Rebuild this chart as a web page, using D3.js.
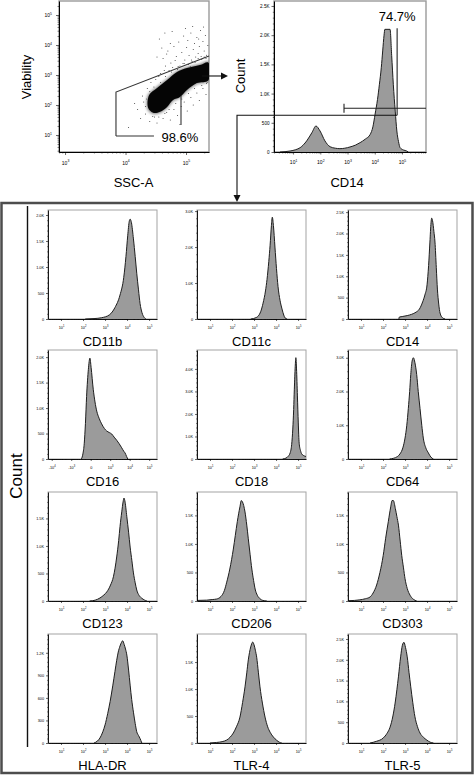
<!DOCTYPE html>
<html><head><meta charset="utf-8">
<script src="https://cdn.jsdelivr.net/npm/d3@7"></script>
<style>
body{margin:0;background:#fff}
svg{display:block}
text{font-family:"Liberation Sans",Arial,Helvetica,sans-serif;fill:#000}
</style></head>
<body><svg id="c" width="474" height="775"></svg>
<script>
// ================= DATA =================
// Viability vs SSC-A scatter (log10 units)
const scatterXTicks = [3, 4, 5];
const scatterYTicks = [1, 2, 3, 4, 5];
const scatterCloud = [[4.388,2.333],[4.52,2.567],[4.686,2.833],[4.851,3.1],[5.016,3.233],[5.231,3.333],[5.37,3.42],
  [5.37,2.82],[5.181,2.733],[5.016,2.5],[4.9,2.267],[4.785,2.167],[4.686,1.933],[4.57,1.767],[4.454,1.733],[4.371,1.9]];
const scatterSparse = [[4.62,3.55],[4.70,3.80],[4.75,3.40],[4.80,3.95],[4.84,3.62],[4.88,4.10],[4.90,3.30],[4.93,3.75],[4.96,4.30],
  [4.98,3.50],[5.01,3.92],[5.03,4.15],[5.05,3.65],[5.08,4.40],[5.10,3.45],[5.12,3.85],[5.14,4.05],[5.16,3.60],[5.18,4.25],
  [5.20,3.72],[5.22,3.95],[5.24,4.48],[5.26,3.52],[5.28,4.12],[5.30,3.80],[5.32,4.32],[5.34,3.66],[5.36,3.98],[4.72,3.15],
  [4.78,3.25],[4.86,3.18],[4.95,3.38],[5.07,3.28],[5.15,3.42],[5.25,3.62],[5.33,3.55],[4.58,3.05],[4.66,3.30],[4.99,4.55],
  [5.11,4.62],[5.21,4.20],[5.29,4.60],[4.82,3.48],[5.04,3.35],[5.19,3.48],[4.25,1.55],[4.30,2.10],[4.33,1.70],[4.40,1.45],
  [4.45,2.40],[4.48,1.60],[4.52,1.40],[4.58,2.05],[4.62,1.55],[4.68,1.75],[4.74,1.50],[4.80,1.85],[4.86,1.65],[4.92,1.95],
  [4.97,2.10],[5.02,1.80],[5.08,2.25],[5.12,2.00],[5.18,2.40],[5.22,2.15],[5.28,2.55],[5.33,2.35],[4.36,2.55],[4.42,2.75],
  [4.50,2.85],[4.55,2.95],[4.28,2.30],[4.20,1.85],[4.15,2.05],[5.35,2.75],[5.30,2.90],[4.64,3.15],[4.05,1.25],[4.90,1.35],
  [4.52,3.6],[4.56,4.2],[4.60,3.9],[4.65,4.4],[4.68,3.7],[4.74,4.05],[4.77,4.45],[4.35,2.2],[4.33,1.95],[4.40,2.45],[4.47,2.6],
  [4.58,2.75],[4.66,2.95],[4.76,3.1],[4.87,3.28],[4.97,3.38],[5.09,3.5],[5.2,3.55],[5.3,3.6],[4.45,1.62],[4.55,1.6],[4.65,1.72],
  [4.72,1.85],[4.83,2.05],[4.93,2.2],[5.04,2.38],[5.14,2.55],[5.26,2.65],[5.34,2.72]];
const viabilityGate = [[3.842,0.967],[3.842,2.433],[5.38,3.633]];
const viabilityGateBase = [[3.842,0.967],[4.47,0.967]];
const viabilityLeader = [[4.917,2.3],[4.917,1.333]];
const viabilityLabel = {text:"98.6%", x:4.90, y:0.777};

// CD14 gating histogram (log10 units, count)
const cd14TopXTicks = [1, 2, 3, 4, 5];
const cd14TopYTicks = [0, 500, 1000, 1500, 2000, 2500];
const cd14Top = [[0.52,0],[0.89,17],[1.1,40],[1.26,74],[1.5,190],[1.69,330],[1.84,445],[1.99,360],[2.17,190],[2.36,90],
  [2.55,65],[2.72,57],[2.9,65],[3.09,86],[3.3,120],[3.46,160],[3.65,220],[3.83,300],[3.93,430],[4.01,645],[4.1,900],
  [4.17,1160],[4.24,1450],[4.29,1730],[4.34,2000],[4.37,2100],[4.56,2100],[4.62,1650],[4.68,1160],[4.75,700],[4.81,360],
  [4.87,180],[4.93,74],[5.05,35],[5.17,17],[5.23,0]];
const cd14GateRange = [2.87, 5.88];
const cd14GateLevel = 750;
const cd14Marker = {x:4.82, lo:630, hi:2120};
const cd14Label = {text:"74.7%", x:4.82, y:2248};

// Marker panels
const panelNames = ["CD11b","CD11c","CD14","CD16","CD18","CD64","CD123","CD206","CD303","HLA-DR","TLR-4","TLR-5"];
const panelYTicks = [[0,500,1000,1500,2000],[0,1000,2000,3000],[0,500,1000,1500,2000,2500],[0,500,1000,1500,2000],
  [0,1000,2000,3000,4000],[0,1000,2000,3000],[0,500,1000,1500],[0,500,1000,1500],[0,500,1000,1500],
  [0,300,600,900,1200],[0,500,1000,1500],[0,500,1000,1500,2000,2500]];
const panelYMax = [2096,3030,2550,2140,4840,3230,1980,1910,1910,1450,2020,2620];
const logXTicks = [1, 2, 3, 4, 5];
const logXLabels = ["10^1","10^2","10^3","10^4","10^5"];
const cd16XTicks = [0, 1, 2, 3, 4, 5];
const cd16XLabels = ["-10^4","-10^3","0","10^3","10^4","10^5"];

const histCD11b = [[2.1,0],[2.5,8],[2.85,25],[3.2,80],[3.45,220],[3.68,460],[3.85,800],[3.95,1200],[4.03,1600],[4.1,1880],
  [4.14,1920],[4.2,1850],[4.29,1540],[4.37,1200],[4.44,880],[4.52,560],[4.59,300],[4.68,120],[4.78,30],[4.85,0]];
const histCD11c = [[2.85,0],[3.1,40],[3.3,200],[3.41,440],[3.52,780],[3.59,1100],[3.67,1600],[3.73,2050],[3.79,2600],
  [3.83,2830],[3.88,2600],[3.95,2000],[4.02,1400],[4.09,900],[4.18,520],[4.27,280],[4.35,110],[4.41,30],[4.5,0]];
const histCD14 = [[2.72,0],[2.74,45],[2.9,60],[3.1,80],[3.3,110],[3.5,160],[3.65,230],[3.8,400],[3.9,560],[4.0,800],
  [4.07,1250],[4.13,1800],[4.18,2250],[4.21,2360],[4.25,2300],[4.31,2050],[4.36,1800],[4.42,1200],[4.47,700],[4.53,350],
  [4.59,140],[4.7,30],[4.82,0]];
const histCD16 = [[1.52,0],[1.6,100],[1.67,310],[1.73,700],[1.79,1230],[1.88,1760],[1.96,1980],[2.02,1800],[2.13,1370],
  [2.22,1120],[2.31,940],[2.43,800],[2.56,690],[2.7,600],[2.82,550],[2.95,520],[3.08,490],[3.2,430],[3.33,370],[3.46,300],
  [3.59,220],[3.7,150],[3.76,120],[3.84,50],[3.9,0]];
const histCD18 = [[4.3,0],[4.45,40],[4.55,120],[4.64,270],[4.71,650],[4.76,1330],[4.8,2200],[4.83,3100],[4.87,4100],
  [4.9,4500],[4.93,4000],[4.97,2800],[5.01,1600],[5.05,700],[5.11,380],[5.17,220],[5.3,130],[5.41,90]];
const histCD64 = [[2.3,0],[2.47,20],[2.65,70],[2.77,150],[2.9,330],[3.0,620],[3.08,1000],[3.15,1500],[3.21,2000],[3.26,2500],
  [3.32,2900],[3.38,3000],[3.45,2850],[3.53,2500],[3.6,2000],[3.68,1500],[3.76,1000],[3.83,620],[3.95,320],[4.06,180],
  [4.17,60],[4.29,0]];
const histCD123 = [[2.3,0],[2.55,15],[2.77,55],[2.95,110],[3.08,165],[3.25,290],[3.38,440],[3.53,800],[3.62,1100],[3.68,1350],
  [3.76,1620],[3.82,1800],[3.86,1870],[3.9,1820],[3.99,1530],[4.07,1250],[4.14,980],[4.22,730],[4.29,510],[4.37,330],
  [4.44,200],[4.55,100],[4.67,50],[4.9,0]];
const histCD206 = [[0.41,10],[0.85,15],[1.1,25],[1.3,35],[1.5,80],[1.65,180],[1.76,330],[1.9,560],[2.06,910],[2.15,1150],
  [2.24,1390],[2.36,1650],[2.42,1760],[2.47,1740],[2.59,1560],[2.67,1330],[2.74,1090],[2.82,820],[2.9,560],[2.98,360],
  [3.05,210],[3.15,100],[3.27,40],[3.4,10],[3.58,0]];
const histCD303 = [[0.42,5],[0.7,10],[0.95,20],[1.2,40],[1.41,70],[1.55,140],[1.71,280],[1.86,500],[2.01,800],[2.12,1100],
  [2.24,1390],[2.35,1650],[2.41,1760],[2.47,1760],[2.56,1620],[2.63,1480],[2.7,1330],[2.78,1050],[2.85,800],[2.93,580],
  [3.0,390],[3.1,220],[3.23,100],[3.38,30],[3.53,0]];
const histHLADR = [[2.5,0],[2.65,25],[2.77,67],[2.9,150],[3.0,240],[3.12,390],[3.23,550],[3.35,760],[3.45,950],[3.53,1100],
  [3.6,1210],[3.68,1290],[3.75,1340],[3.8,1360],[3.87,1310],[3.93,1250],[3.99,1170],[4.07,970],[4.14,770],[4.21,580],
  [4.29,410],[4.37,260],[4.44,150],[4.52,100],[4.59,60],[4.67,0]];
const histTLR4 = [[1.0,0],[1.3,10],[1.55,25],[1.76,55],[1.92,110],[2.06,185],[2.2,300],[2.36,480],[2.48,750],[2.59,1040],
  [2.67,1300],[2.74,1540],[2.85,1780],[2.94,1870],[3.0,1820],[3.06,1720],[3.12,1590],[3.2,1300],[3.27,1040],[3.38,740],
  [3.5,480],[3.62,300],[3.73,200],[3.88,110],[4.03,50],[4.15,15],[4.26,0]];
const histTLR5 = [[1.41,0],[1.7,40],[2.01,120],[2.18,230],[2.32,380],[2.45,650],[2.55,960],[2.63,1280],[2.7,1590],[2.8,2070],
  [2.88,2350],[2.95,2420],[3.02,2300],[3.1,2070],[3.18,1700],[3.26,1350],[3.35,980],[3.45,630],[3.56,400],[3.68,240],
  [3.83,140],[3.99,70],[4.14,20],[4.29,0]];
const panelHists = [histCD11b,histCD11c,histCD14,histCD16,histCD18,histCD64,histCD123,histCD206,histCD303,histHLADR,histTLR4,histTLR5];

// ================= LAYOUT / HELPERS =================
const svg = d3.select("#c");
const defs = svg.append("defs");
defs.append("filter").attr("id","blur").attr("x","-20%").attr("y","-20%").attr("width","140%").attr("height","140%")
  .append("feGaussianBlur").attr("stdDeviation",1.4);

const HFILL = "#9b9b9b", HSTROKE = "#1e1e1e", FRAME = "#a3a3a3";
let clipId = 0;

function fmtCount(v){ return v === 0 ? "0" : (v >= 1000 ? (v/1000).toFixed(1) + "K" : String(v)); }
function logMinor(lo, hi){
  const a = [];
  for (let d = Math.floor(lo) - 1; d <= Math.ceil(hi); d++)
    for (let k = 2; k <= 9; k++){ const v = d + Math.log10(k); if (v > lo && v < hi) a.push(v); }
  return a;
}
function supText(textSel, lab, fs){
  textSel.text(null);
  const parts = lab.split("^");
  textSel.append("tspan").text(parts[0]);
  if (parts.length > 1) textSel.append("tspan").attr("font-size", fs*0.68).attr("dy", -fs*0.42).text(parts[1]);
}
function styleAxis(ax, w){
  ax.select(".domain").attr("stroke","#000").attr("stroke-width", w);
  ax.selectAll(".tick line").attr("stroke","#000").attr("stroke-width", 0.6);
  ax.selectAll(".tick text").attr("fill","#333");
}
function clipRect(g, w, h){
  const id = "clip" + (clipId++);
  defs.append("clipPath").attr("id", id).append("rect").attr("width", w).attr("height", h);
  return "url(#" + id + ")";
}
function drawHist(g, x, y, data, w, h){
  const area = d3.area().x(d => x(d[0])).y0(y(0)).y1(d => y(d[1])).curve(d3.curveMonotoneX);
  const line = d3.line().x(d => x(d[0])).y(d => y(d[1])).curve(d3.curveMonotoneX);
  const cg = g.append("g").attr("clip-path", clipRect(g, w, h));
  cg.append("path").attr("d", area(data)).attr("fill", HFILL);
  cg.append("path").attr("d", line(data)).attr("fill","none").attr("stroke", HSTROKE).attr("stroke-width", 1);
}

// ================= SCATTER =================
(function(){
  const L = 59, T = 1, w = 150, h = 151;
  const g = svg.append("g").attr("transform", `translate(${L},${T})`);
  const x = d3.scaleLinear().domain([2.9, 5.38]).range([0, w]);
  const y = d3.scaleLinear().domain([0.433, 5.467]).range([h, 0]);
  g.append("rect").attr("width", w).attr("height", h).attr("fill","#fff").attr("stroke","#9a9a9a").attr("stroke-width",1.4);
  const cg = g.append("g").attr("clip-path", clipRect(g, w, h));
  cg.selectAll("circle").data(scatterSparse).join("circle")
    .attr("cx", d => x(d[0])).attr("cy", d => y(d[1])).attr("r", 0.5).attr("fill","#333");
  const cl = d3.line().x(d => x(d[0])).y(d => y(d[1])).curve(d3.curveCatmullRomClosed);
  cg.append("path").attr("d", cl(scatterCloud)).attr("fill","#444").attr("stroke","#666").attr("stroke-width",2).attr("opacity",0.75).attr("filter","url(#blur)");
  cg.append("path").attr("d", cl(scatterCloud)).attr("fill","#050505").attr("transform",`translate(0.6,0.4) scale(0.995)`);

  const ln = d3.line().x(d => x(d[0])).y(d => y(d[1]));
  [viabilityGate, viabilityGateBase, viabilityLeader].forEach(p =>
    g.append("path").attr("d", ln(p)).attr("fill","none").attr("stroke","#333").attr("stroke-width",1.1));
  g.append("text").attr("x", x(viabilityLabel.x)).attr("y", y(viabilityLabel.y)).attr("text-anchor","middle")
    .attr("font-size",13).text(viabilityLabel.text);

  const ay = g.append("g").call(d3.axisLeft(y).tickValues(scatterYTicks).tickSize(3).tickPadding(4).tickSizeOuter(0));
  ay.selectAll(".tick text").attr("font-size",5).each(function(d){ supText(d3.select(this), "10^" + d, 5); });
  styleAxis(ay, 1);
  const ayM = g.append("g").call(d3.axisLeft(y).tickValues(logMinor(0.433, 5.467)).tickSize(1.5).tickFormat(""));
  ayM.select(".domain").remove(); ayM.selectAll("line").attr("stroke-width",0.5);
  const ax = g.append("g").attr("transform", `translate(0,${h})`)
    .call(d3.axisBottom(x).tickValues(scatterXTicks).tickSize(3).tickPadding(6).tickSizeOuter(0));
  ax.selectAll(".tick text").attr("font-size",5).each(function(d){ supText(d3.select(this), "10^" + d, 5); });
  styleAxis(ax, 1);
  const axM = g.append("g").attr("transform", `translate(0,${h})`).call(d3.axisBottom(x).tickValues(logMinor(2.9, 5.38)).tickSize(1.5).tickFormat(""));
  axM.select(".domain").remove(); axM.selectAll("line").attr("stroke-width",0.5);

  svg.append("text").attr("transform","translate(31,77) rotate(-90)").attr("text-anchor","middle").attr("font-size",13).text("Viability");
  svg.append("text").attr("x",133.5).attr("y",187).attr("text-anchor","middle").attr("font-size",13).text("SSC-A");

  // arrow to CD14 histogram
  const sx = L + x(5.264), sy = T + y(2.967);
  svg.append("line").attr("x1", sx).attr("y1", sy).attr("x2", 222).attr("y2", sy).attr("stroke","#111").attr("stroke-width",1.1);
  svg.append("path").attr("d", `M228,${sy}L221,${sy-3.5}L221,${sy+3.5}Z`).attr("fill","#111");
})();

// ================= CD14 GATING HISTOGRAM =================
(function(){
  const L = 274, T = 1, w = 152, h = 151;
  const g = svg.append("g").attr("transform", `translate(${L},${T})`);
  const x = d3.scaleLinear().domain([0.30, 5.88]).range([0, w]);
  const y = d3.scaleLinear().domain([0, 2585]).range([h, 0]);
  g.append("rect").attr("width", w).attr("height", h).attr("fill","#fff").attr("stroke","#9a9a9a").attr("stroke-width",1.4);
  drawHist(g, x, y, cd14Top, w, h);

  const ay = g.append("g").call(d3.axisLeft(y).tickValues(cd14TopYTicks).tickSize(2.5).tickPadding(2).tickFormat(fmtCount).tickSizeOuter(0));
  ay.selectAll(".tick text").attr("font-size",4.6);
  styleAxis(ay, 1);
  const ayM = g.append("g").call(d3.axisLeft(y).tickValues(d3.range(100, 2585, 100).filter(v => v % 500)).tickSize(1.2).tickFormat(""));
  ayM.select(".domain").remove(); ayM.selectAll("line").attr("stroke-width",0.5);
  const ax = g.append("g").attr("transform", `translate(0,${h})`)
    .call(d3.axisBottom(x).tickValues(cd14TopXTicks).tickSize(2.5).tickPadding(6).tickSizeOuter(0));
  ax.selectAll(".tick text").attr("font-size",5).each(function(d){ supText(d3.select(this), "10^" + d, 5); });
  styleAxis(ax, 1);
  const axM = g.append("g").attr("transform", `translate(0,${h})`).call(d3.axisBottom(x).tickValues(logMinor(0.30, 5.88)).tickSize(1.5).tickFormat(""));
  axM.select(".domain").remove(); axM.selectAll("line").attr("stroke-width",0.5);

  // gate
  const gy = y(cd14GateLevel);
  g.append("line").attr("x1", x(cd14GateRange[0])).attr("x2", x(cd14GateRange[1])).attr("y1", gy).attr("y2", gy).attr("stroke","#222").attr("stroke-width",1.1);
  g.append("line").attr("x1", x(cd14GateRange[0])).attr("x2", x(cd14GateRange[0])).attr("y1", gy-4.5).attr("y2", gy+4.5).attr("stroke","#222").attr("stroke-width",1.1);
  g.append("line").attr("x1", x(cd14Marker.x)).attr("x2", x(cd14Marker.x)).attr("y1", y(cd14Marker.hi)).attr("y2", y(cd14Marker.lo)).attr("stroke","#222").attr("stroke-width",1.1);
  g.append("text").attr("x", x(cd14Label.x)).attr("y", y(cd14Label.y)).attr("text-anchor","middle").attr("font-size",13).text(cd14Label.text);

  svg.append("text").attr("transform","translate(245,76) rotate(-90)").attr("text-anchor","middle").attr("font-size",13).text("Count");
  svg.append("text").attr("x",347).attr("y",187).attr("text-anchor","middle").attr("font-size",13).text("CD14");

  // connector arrow down to panel box
  const cy = T + y(cd14Marker.lo), cx = L + x(cd14Marker.x);
  svg.append("path").attr("d", `M${cx},${cy}H237V196`).attr("fill","none").attr("stroke","#111").attr("stroke-width",1.1);
  svg.append("path").attr("d", "M237,202L233.5,195L240.5,195Z").attr("fill","#111");
})();

// ================= PANEL BOX =================
svg.append("rect").attr("x",1.5).attr("y",203).attr("width",471).attr("height",570).attr("fill","none").attr("stroke","#4d4d4d").attr("stroke-width",2.5);
svg.append("line").attr("x1",27.5).attr("x2",27.5).attr("y1",206).attr("y2",747).attr("stroke","#111").attr("stroke-width",1.4);
svg.append("text").attr("transform","translate(22,476) rotate(-90)").attr("text-anchor","middle").attr("font-size",17).text("Count");

const COLS = [48, 197, 348], ROWS = [210, 350, 492, 634], PW = 109, PH = 109;
panelNames.forEach((name, i) => {
  const c = i % 3, r = Math.floor(i / 3);
  const g = svg.append("g").attr("transform", `translate(${COLS[c]},${ROWS[r]})`);
  const biex = name === "CD16";
  const x = d3.scaleLinear().domain(biex ? [-0.19, 5.4] : [0.41, 5.36]).range([0, PW]);
  const y = d3.scaleLinear().domain([0, panelYMax[i]]).range([PH, 0]);
  g.append("rect").attr("width", PW).attr("height", PH).attr("fill","#fff").attr("stroke", FRAME).attr("stroke-width",1);
  drawHist(g, x, y, panelHists[i], PW, PH);

  const yt = panelYTicks[i];
  const step = yt[1] - yt[0];
  const ay = g.append("g").call(d3.axisLeft(y).tickValues(yt).tickSize(2).tickPadding(2).tickFormat(fmtCount).tickSizeOuter(0));
  ay.selectAll(".tick text").attr("font-size",3.8);
  styleAxis(ay, 0.9);
  const minorY = d3.range(step/5, panelYMax[i], step/5).filter(v => Math.abs(v/step - Math.round(v/step)) > 1e-6);
  const ayM = g.append("g").call(d3.axisLeft(y).tickValues(minorY).tickSize(1).tickFormat(""));
  ayM.select(".domain").remove(); ayM.selectAll("line").attr("stroke-width",0.45);

  const ticks = biex ? cd16XTicks : logXTicks, labs = biex ? cd16XLabels : logXLabels;
  const ax = g.append("g").attr("transform", `translate(0,${PH})`)
    .call(d3.axisBottom(x).tickValues(ticks).tickSize(2).tickPadding(5).tickSizeOuter(0));
  ax.selectAll(".tick text").attr("font-size",3.8).each(function(d, k){ supText(d3.select(this), labs[k], 3.8); });
  styleAxis(ax, 0.9);
  let minorX;
  if (biex) {
    minorX = [];
    for (let s = 0; s < 5; s++) for (let k = 2; k <= 9; k++)
      minorX.push(s < 2 ? (s + 1) - Math.log10(k) : s + Math.log10(k));
    minorX = minorX.filter(v => v > -0.19 && v < 5.4);
  } else minorX = logMinor(0.41, 5.36);
  const axM = g.append("g").attr("transform", `translate(0,${PH})`).call(d3.axisBottom(x).tickValues(minorX).tickSize(1).tickFormat(""));
  axM.select(".domain").remove(); axM.selectAll("line").attr("stroke-width",0.45);

  svg.append("text").attr("x", COLS[c] + PW/2).attr("y", ROWS[r] + PH + 26.5).attr("text-anchor","middle").attr("font-size",13).text(name);
});
</script></body></html>
